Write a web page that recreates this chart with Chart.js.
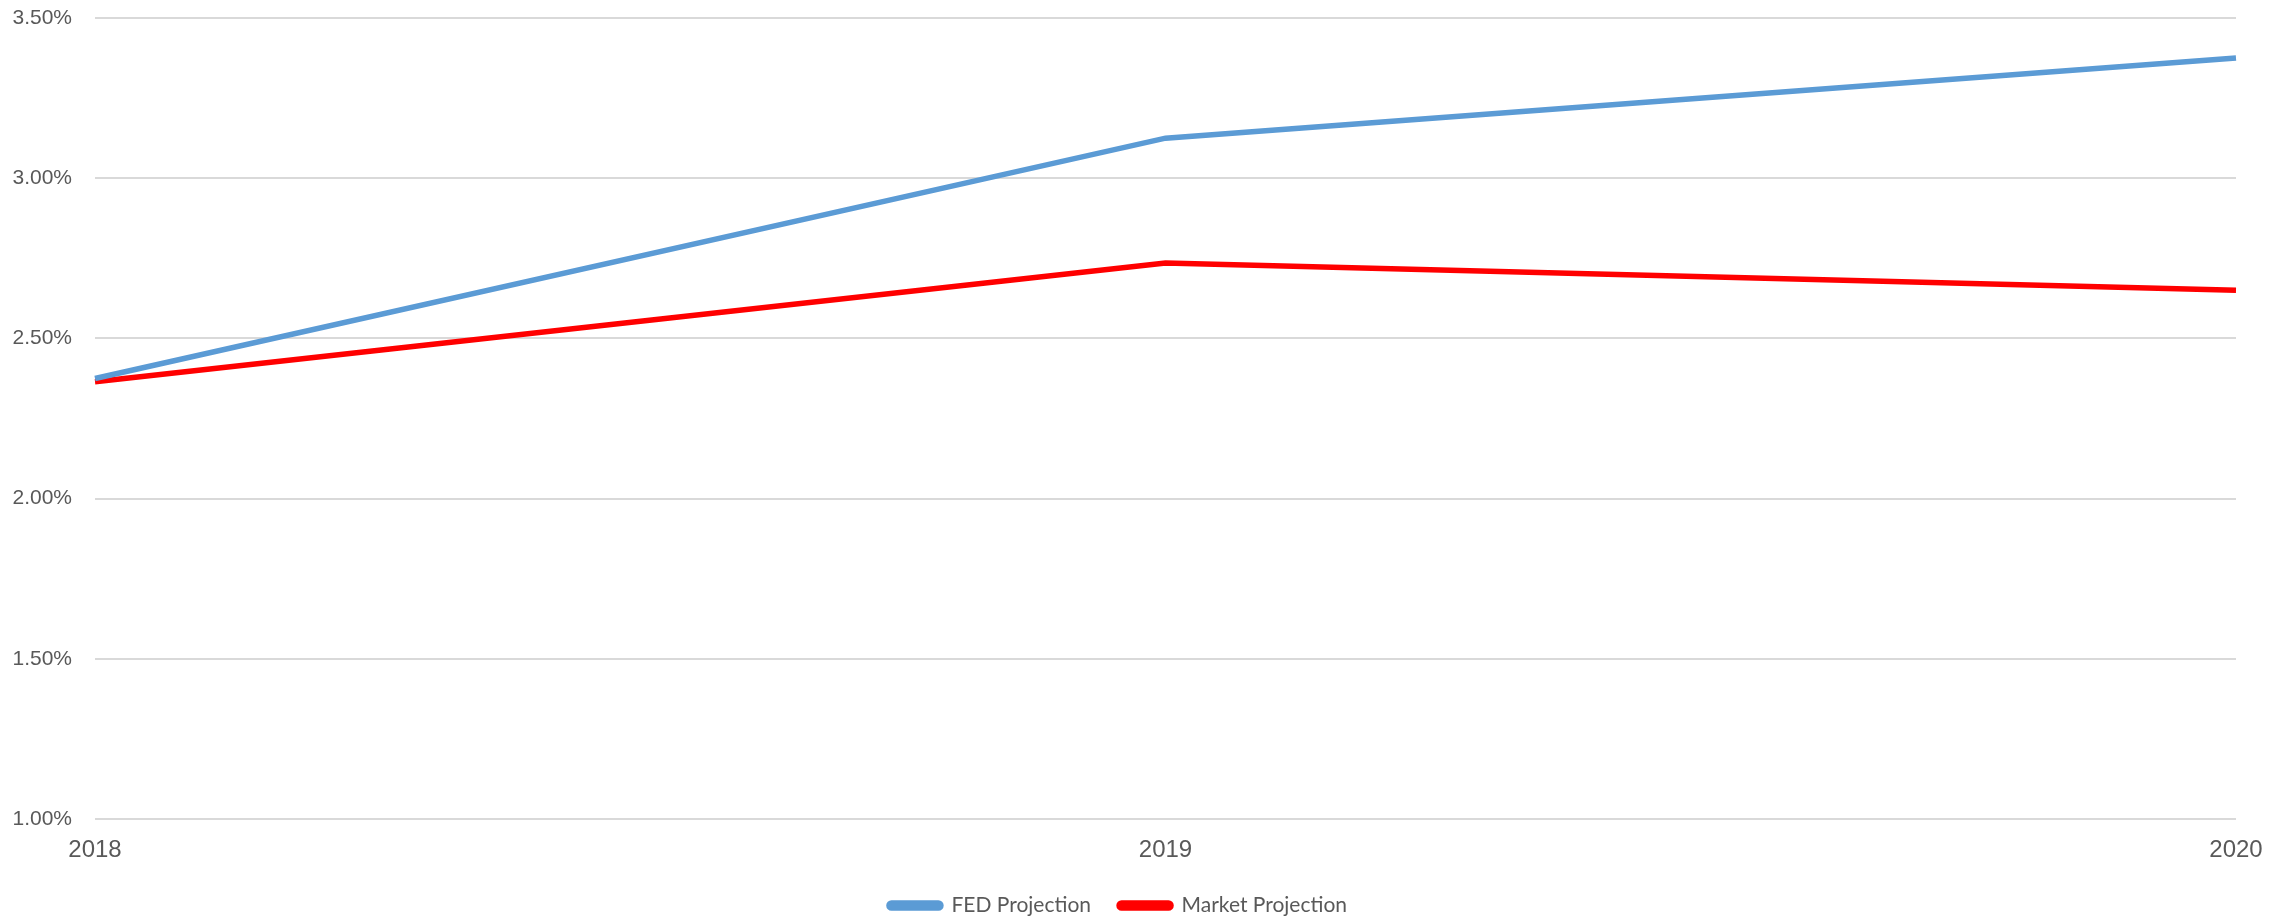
<!DOCTYPE html>
<html>
<head>
<meta charset="utf-8">
<script src="https://cdn.jsdelivr.net/npm/chart.js@4"></script>
<style>
  body { margin: 0; background: #fff; }
  #wrap { width: 2292px; height: 916px; position: relative; }
</style>
</head>
<body>
<div id="wrap"><canvas id="rateChart"></canvas></div>
<script>
// Data
const years = ['2018', '2019', '2020'];
const fedProjection = [2.375, 3.125, 3.375];
const marketProjection = [2.365, 2.735, 2.65];
const yTicks = [1.0, 1.5, 2.0, 2.5, 3.0, 3.5];

const textColor = '#595959';
const gridColor = '#d9d9d9';

const ctx = document.getElementById('rateChart').getContext('2d');
const rateChart = new Chart(ctx, {
    type: 'line',
    data: {
        labels: years,
        datasets: [
            {
                label: 'FED Projection',
                data: fedProjection,
                borderColor: '#5b9bd5',
                backgroundColor: '#5b9bd5',
                borderWidth: 5.5,
                pointRadius: 0,
                tension: 0
            },
            {
                label: 'Market Projection',
                data: marketProjection,
                borderColor: '#ff0000',
                backgroundColor: '#ff0000',
                borderWidth: 5.5,
                pointRadius: 0,
                tension: 0
            }
        ]
    },
    options: {
        responsive: true,
        maintainAspectRatio: false,
        animation: false,
        layout: { padding: { top: 18, right: 56, bottom: 0, left: 0 } },
        plugins: {
            tooltip: { enabled: false },
            legend: {
                position: 'bottom',
                maxHeight: 49,
                labels: {
                    color: textColor,
                    font: { family: 'Lato', size: 21 },
                    boxWidth: 52,
                    boxHeight: 5,
                    useBorderRadius: true,
                    borderRadius: 2.5,
                    padding: 28
                }
            }
        },
        scales: {
            x: {
                offset: false,
                afterFit: scale => { scale.height = 48; },
                grid: { display: false, drawTicks: false },
                border: { display: false },
                ticks: {
                    color: textColor,
                    font: { family: 'Liberation Sans', size: 24 },
                    padding: 17,
                    maxRotation: 0
                }
            },
            y: {
                min: yTicks[0],
                max: yTicks[yTicks.length - 1],
                afterBuildTicks: scale => { scale.ticks = yTicks.map(v => ({ value: v })); },
                afterFit: scale => { scale.width = 95; },
                grid: { color: gridColor, lineWidth: 2, drawTicks: true, tickLength: 23, tickColor: 'rgba(0,0,0,0)' },
                border: { display: false },
                ticks: {
                    color: textColor,
                    font: { family: 'Liberation Sans', size: 21 },
                    padding: 0,
                    callback: v => v.toFixed(2) + '%'
                }
            }
        }
    }
});
</script>
</body>
</html>
